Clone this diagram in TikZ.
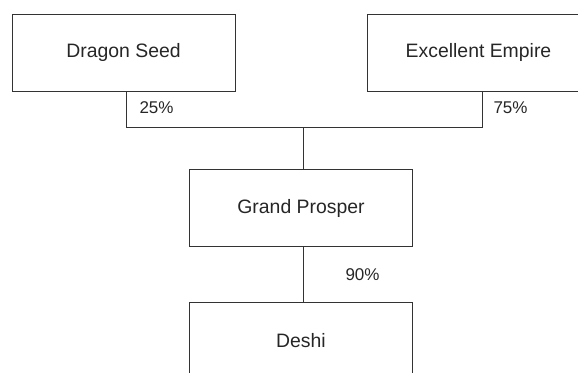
\documentclass[tikz,border=0pt]{standalone}
\usepackage{fontspec}
\setmainfont{Liberation Sans}
\begin{document}
\begin{tikzpicture}[x=0.5pt,y=0.5pt,line width=0.5pt,
	firm/.style={draw=black!80,text=black!85,minimum width=111.5pt,minimum height=38.5pt,inner sep=0pt,font=\fontsize{9.7}{11}\selectfont},
	share/.style={anchor=west,inner sep=0pt,text=black!85,font=\fontsize{8.5}{10}\selectfont}]
	\useasboundingbox (0,0) rectangle (578,372);
	\clip (0,0) rectangle (578,372);
	\node[firm](DS) at (123.5,319.5){Dragon Seed};
	\node[firm](EE) at (478.5,319.5){Excellent Empire};
	\node[firm](GP) at (301,164){Grand Prosper};
	\node[firm](DE) at (301,31){Deshi};
	\coordinate (J) at (303.5,244.5);
	\draw[black!80] ([xshift=1.25pt]DS.south)|-(J)-|([xshift=1.75pt]EE.south);
	\draw[black!80] (J)--(J|-GP.north);
	\draw[black!80] (J|-GP.south)--(J|-DE.north);
	\node[share] at (139,264){25\%};
	\node[share] at (493,264){75\%};
	\node[share] at (345,97){90\%};
	
	\end{tikzpicture}
\end{document}
